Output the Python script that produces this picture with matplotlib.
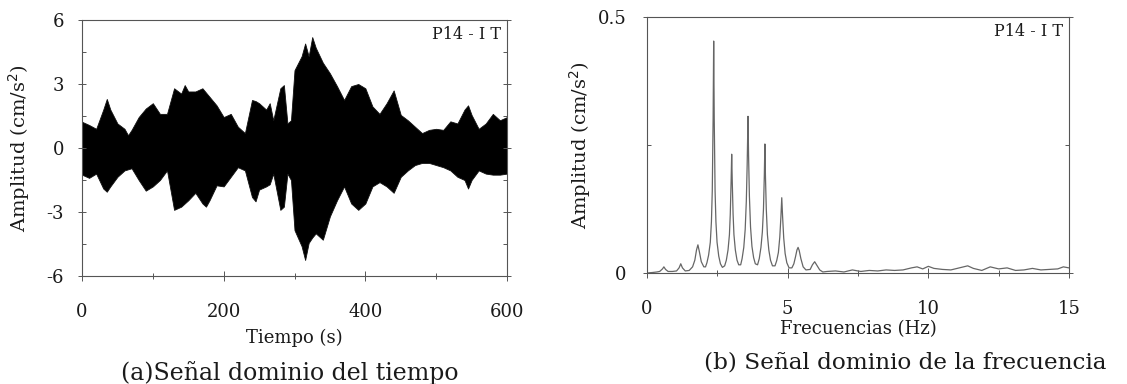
import matplotlib
matplotlib.use("Agg")
import matplotlib.pyplot as plt
from matplotlib.ticker import MultipleLocator

# ---------------- data ----------------
time_s = [0, 10, 20, 30, 35, 40, 50, 60, 65, 70, 80, 90, 100, 110, 120, 130, 140, 145,
          150, 160, 170, 175, 180, 190, 200, 210, 220, 230, 240, 245, 250, 260, 265, 270,
          280, 285, 290, 295, 300, 310, 315, 320, 325, 330, 340, 350, 360, 370, 380, 390,
          400, 410, 420, 430, 440, 450, 460, 470, 480, 490, 500, 510, 520, 530, 540, 545,
          550, 560, 570, 580, 590, 600]
upper_env = [1.23, 1.08, 0.9, 1.8, 2.3, 1.8, 1.15, 0.9, 0.6, 0.85, 1.45, 1.85, 2.1, 1.6,
             1.6, 2.8, 2.55, 2.95, 2.65, 2.65, 2.8, 2.6, 2.4, 2.0, 1.45, 1.6, 1.0, 0.7, 2.25,
             2.2, 2.1, 1.8, 2.1, 1.3, 2.8, 2.95, 1.15, 1.3, 3.65, 4.3, 4.9, 4.3, 5.2, 4.7,
             4.0, 3.5, 2.9, 2.25, 2.9, 3.0, 2.8, 1.95, 1.6, 2.1, 2.7, 1.55, 1.3, 1.0, 0.7,
             0.85, 0.9, 0.85, 1.25, 1.15, 1.8, 2.0, 1.55, 0.9, 1.15, 1.6, 1.3, 1.45]
lower_env = [-1.25, -1.4, -1.2, -1.9, -2.05, -1.8, -1.35, -1.05, -1.0, -0.95, -1.5, -2.0,
             -1.8, -1.5, -1.05, -2.9, -2.75, -2.6, -2.45, -2.1, -2.6, -2.75, -2.45, -1.75,
             -1.8, -1.35, -0.9, -1.05, -2.3, -2.5, -1.95, -1.8, -1.7, -1.2, -2.9, -2.75,
             -1.2, -1.5, -3.85, -4.6, -5.25, -4.45, -4.2, -4.0, -4.3, -3.2, -2.45, -1.8,
             -2.6, -2.9, -2.6, -1.8, -1.6, -1.8, -2.1, -1.35, -1.05, -0.8, -0.7, -0.7, -0.8,
             -0.9, -1.05, -1.35, -1.5, -1.9, -1.5, -1.05, -1.2, -1.25, -1.25, -1.2]

freq_hz = [0.00, 0.20, 0.35, 0.45, 0.55, 0.60, 0.66, 0.75, 0.90, 1.05, 1.14, 1.20, 1.26,
           1.36, 1.50, 1.62, 1.70, 1.76, 1.81, 1.86, 1.93, 2.02, 2.08, 2.13, 2.19, 2.25,
           2.29, 2.32, 2.35, 2.37, 2.39, 2.42, 2.45, 2.49, 2.55, 2.61, 2.68, 2.76, 2.82,
           2.88, 2.93, 2.96, 2.99, 3.01, 3.03, 3.06, 3.09, 3.14, 3.20, 3.26, 3.33, 3.38,
           3.44, 3.49, 3.53, 3.56, 3.59, 3.61, 3.64, 3.68, 3.73, 3.79, 3.85, 3.93, 3.99,
           4.05, 4.10, 4.14, 4.17, 4.19, 4.21, 4.24, 4.28, 4.33, 4.39, 4.46, 4.55, 4.61,
           4.67, 4.72, 4.76, 4.79, 4.82, 4.86, 4.91, 4.97, 5.05, 5.15, 5.22, 5.28, 5.33,
           5.37, 5.41, 5.47, 5.55, 5.65, 5.80, 5.88, 5.96, 6.04, 6.14, 6.25, 6.40, 6.70,
           7.00, 7.30, 7.60, 7.90, 8.20, 8.50, 8.80, 9.10, 9.40, 9.60, 9.80, 10.0, 10.2,
           10.5, 10.8, 11.1, 11.4, 11.6, 11.9, 12.2, 12.5, 12.8, 13.1, 13.4, 13.7, 14.0,
           14.3, 14.6, 14.8, 15.0]
amp_spec = [0.000, 0.001, 0.002, 0.003, 0.008, 0.012, 0.007, 0.003, 0.003, 0.004, 0.010,
            0.018, 0.010, 0.004, 0.005, 0.012, 0.025, 0.045, 0.055, 0.042, 0.022, 0.012,
            0.012, 0.020, 0.035, 0.060, 0.100, 0.160, 0.300, 0.453, 0.300, 0.160, 0.100,
            0.060, 0.033, 0.018, 0.011, 0.014, 0.025, 0.045, 0.075, 0.115, 0.180, 0.232,
            0.180, 0.115, 0.075, 0.045, 0.025, 0.016, 0.016, 0.028, 0.050, 0.085, 0.140,
            0.210, 0.306, 0.230, 0.150, 0.090, 0.052, 0.030, 0.018, 0.016, 0.028, 0.050,
            0.080, 0.125, 0.190, 0.252, 0.190, 0.125, 0.075, 0.045, 0.025, 0.014, 0.014,
            0.024, 0.040, 0.070, 0.110, 0.147, 0.110, 0.068, 0.038, 0.020, 0.010, 0.010,
            0.018, 0.032, 0.045, 0.050, 0.044, 0.028, 0.012, 0.006, 0.007, 0.016, 0.022,
            0.015, 0.006, 0.002, 0.003, 0.004, 0.002, 0.006, 0.003, 0.005, 0.004, 0.006,
            0.005, 0.006, 0.010, 0.012, 0.008, 0.013, 0.009, 0.007, 0.006, 0.010, 0.014,
            0.009, 0.005, 0.012, 0.008, 0.010, 0.005, 0.006, 0.009, 0.006, 0.007, 0.008,
            0.012, 0.010]

time_ticks = [0, 200, 400, 600]
amp_ticks = [-6, -3, 0, 3, 6]
freq_ticks = [0, 5, 10, 15]
spec_ticks = [0, 0.5]
station = "P14 - I T"

# ---------------- figure ----------------
W, H = 1127, 384
plt.rcParams['font.family'] = ['DejaVu Serif']
plt.rcParams['axes.unicode_minus'] = False
fig = plt.figure(figsize=(W / 100, H / 100), dpi=100)

def px_axes(x0, x1, ytop, ybot):
    return fig.add_axes([x0 / W, 1 - ybot / H, (x1 - x0) / W, (ybot - ytop) / H])

spine_col = '#555555'
txt_col = '#1a1a1a'

def style(ax, ypad):
    for s in ax.spines.values():
        s.set_color(spine_col)
        s.set_linewidth(0.8)
    ax.tick_params(axis='both', which='both', colors=spine_col, labelcolor=txt_col,
                   labelsize=13, width=0.7)
    ax.tick_params(axis='x', which='major', direction='inout', length=7, pad=16)
    ax.tick_params(axis='x', which='minor', direction='inout', length=4)
    ax.tick_params(axis='y', which='major', direction='inout', length=6, pad=ypad,
                   right=True)
    ax.tick_params(axis='y', which='minor', direction='in', length=3, right=True)

# (a) time domain
ax1 = px_axes(82, 507, 20, 276)
ax1.fill_between(time_s, lower_env, upper_env, color='black', linewidth=0.6,
                 edgecolor='#111111')
ax1.set_xlim(0, 600)
ax1.set_ylim(-6, 6)
ax1.set_xticks(time_ticks)
ax1.set_yticks(amp_ticks)
ax1.xaxis.set_minor_locator(MultipleLocator(100))
ax1.yaxis.set_minor_locator(MultipleLocator(1.5))
style(ax1, 10)
ax1.set_xlabel('Tiempo (s)', fontsize=13, color=txt_col)
ax1.set_ylabel('Amplitud (cm/s$^2$)', fontsize=14, color=txt_col)
ax1.xaxis.set_label_coords(0.5, (276 - 329) / 256)
ax1.yaxis.set_label_coords((32 - 82) / 425, 0.5)
ax1.text(0.985, 0.975, station, transform=ax1.transAxes, ha='right', va='top',
         fontsize=11.5, color=txt_col)

# (b) frequency domain
ax2 = px_axes(647, 1069, 17, 273)
ax2.plot(freq_hz, amp_spec, color='#666666', linewidth=0.9)
ax2.set_xlim(0, 15)
ax2.set_ylim(0, 0.5)
ax2.set_xticks(freq_ticks)
ax2.set_yticks(spec_ticks)
ax2.set_yticklabels(['0', '0.5'])
ax2.xaxis.set_minor_locator(MultipleLocator(2.5))
ax2.yaxis.set_minor_locator(MultipleLocator(0.25))
style(ax2, 12)
ax2.set_xlabel('Frecuencias (Hz)', fontsize=13, color=txt_col)
ax2.set_ylabel('Amplitud (cm/s$^2$)', fontsize=14, color=txt_col)
ax2.xaxis.set_label_coords(0.5, (273 - 320) / 256)
ax2.yaxis.set_label_coords((593 - 647) / 422, 0.5)
ax2.text(0.985, 0.975, station, transform=ax2.transAxes, ha='right', va='top',
         fontsize=11.5, color=txt_col)

# captions
fig.text(290 / W, 1 - 373 / H, '(a)Señal dominio del tiempo', ha='center', va='center',
         fontsize=17, color=txt_col)
fig.text(905 / W, 1 - 363 / H, '(b) Señal dominio de la frecuencia', ha='center',
         va='center', fontsize=16.7, color=txt_col)

fig.savefig('out.png', dpi=100)
